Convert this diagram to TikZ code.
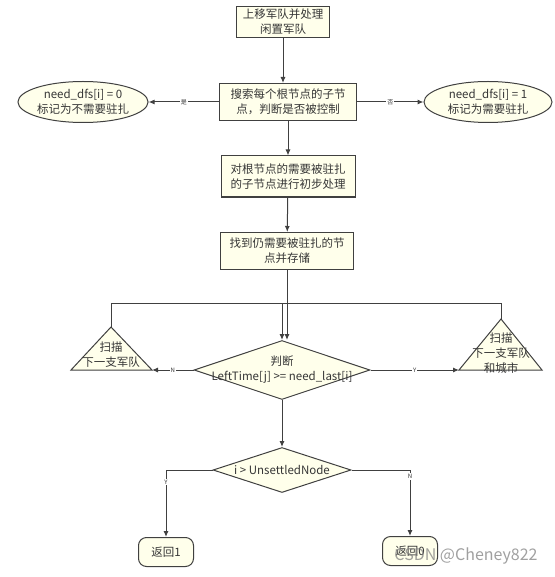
\documentclass[tikz,border=0pt]{standalone}
\usepackage{fontspec}
\setmainfont{Noto Sans CJK SC}
\usepackage{tikz}
\usetikzlibrary{positioning}
\usetikzlibrary{shapes.geometric}
\usetikzlibrary{arrows.meta}
\definecolor{boxfill}{HTML}{FFFFEB}
\definecolor{boxline}{HTML}{404040}

\begin{document}
\begin{tikzpicture}[x=1pt, y=-1pt,
    every node/.style={font=\fontsize{11.5}{15}\selectfont, align=center, text=boxline!85!black},
    box/.style={draw=boxline, fill=boxfill, line width=1pt, inner sep=0pt},
    line/.style={draw=boxline, line width=1pt},
    arr/.style={line, -{Latex[length=6pt,width=5pt]}},
    lab/.style={font=\fontsize{6}{6}\selectfont, fill=white, inner sep=1pt}]

                \useasboundingbox (0,0) rectangle (554,577);

                % Nodes
                \node at (283,22) (move) [box, minimum width=93pt, minimum height=31pt] {上移军队并处理\\闲置军队};
                \node at (288,102) (search) [box, minimum width=137pt, minimum height=37pt] {搜索每个根节点的子节\\点，判断是否被控制};
                \node at (83,102) (nodfs) [box, ellipse, minimum width=127pt, minimum height=41pt] {need\_dfs[i] = 0\\标记为不需要驻扎};
                \node at (488,102) (yesdfs) [box, ellipse, minimum width=128pt, minimum height=41pt] {need\_dfs[i] = 1\\标记为需要驻扎};
                \node at (288,176.5) (pre) [box, minimum width=134pt, minimum height=41pt] {对根节点的需要被驻扎\\的子节点进行初步处理};
                \node at (287,251) (find) [box, minimum width=133pt, minimum height=37pt] {找到仍需要被驻扎的节\\点并存储};

                % Triangles
                \coordinate (la) at (111,327);
                \coordinate (lb) at (71,370);
                \coordinate (lc) at (152,370);
                \draw[box] (la) -- (lb) -- (lc) -- cycle;
                \node at (111,355) (scanl) {扫描\\下一支军队};
                \coordinate (ra) at (501,319);
                \coordinate (rb) at (459,370);
                \coordinate (rc) at (542,370);
                \draw[box] (ra) -- (rb) -- (rc) -- cycle;
                \node at (501,353) (scanr) {扫描\\下一支军队\\和城市};

                \node at (282,370) (judge) [box, diamond, minimum width=176pt, minimum height=59pt,
                    label={[align=center]center:判断\\LeftTime[j] >= need\_last[i]}] {};
                \node at (282,470) (check) [box, diamond, minimum width=138pt, minimum height=45pt,
                    label={center:i > UnsettledNode}] {};
                \node at (166,552) (ret1) [box, rounded corners=8pt, minimum width=55pt, minimum height=29pt] {返回1};
                \node at (410,551) (ret0) [box, rounded corners=8pt, minimum width=55pt, minimum height=29pt] {返回0};
                \node at (466,556) (mark) [font=\fontsize{16}{16}\selectfont, text=gray, opacity=0.75] {CSDN @Cheney822};

                % Arrows
                \draw[arr] (move) -- (move |- search.north);
                \draw[arr] (search) -- node[lab] {是} (nodfs);
                \draw[arr] (search) -- node[lab] {否} (yesdfs);
                \draw[arr] (search) -- (pre);
                \draw[arr] (pre) -- (find);
                \draw[arr] (find) -- (find |- judge.north);
                \coordinate (loop) at (282,303);
                \draw[line] (la) -- ++(0,-24) -| (ra);
                \draw[arr] (loop) -- (judge.north);
                \draw[arr] (judge.west) -- node[lab] {N} (lc);
                \draw[arr] (judge.east) -- node[lab] {Y} (rb);
                \draw[arr] (judge) -- (check);
                \draw[arr] (check.west) -| node[lab, pos=0.59] {Y} (ret1);
                \draw[arr] (check.east) -| node[lab, pos=0.55] {N} (ret0);
            \end{tikzpicture}
\end{document}
